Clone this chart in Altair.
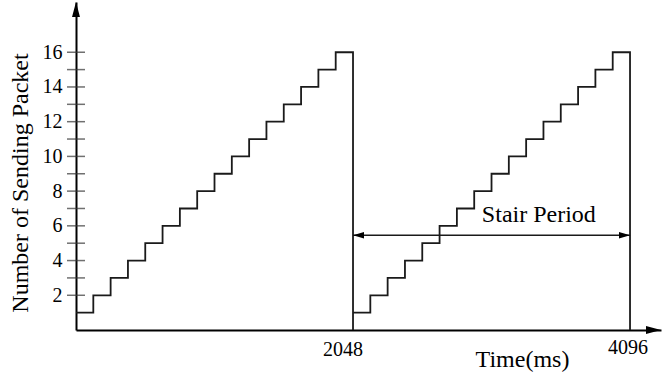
import altair as alt
import pandas as pd

# Staircase: packets sent in each 128 ms slot, repeating every 2048 ms
step_starts = [0, 128, 256, 384, 512, 640, 768, 896,
               1024, 1152, 1280, 1408, 1536, 1664, 1792, 1920]
stair_values = [1, 2, 3, 4, 5, 6, 7, 8, 9, 10, 11, 12, 13, 14, 15, 16]
period_starts = [0, 2048]
period_length = 2048

# Axis marks
y_tick_values = [2, 3, 4, 5, 6, 7, 8, 9, 10, 11, 12, 13, 14, 15, 16]
y_label_values = [2, 4, 6, 8, 10, 12, 14, 16]
x_label_values = [2048, 4096]

# "Stair Period" dimension arrow
period_arrow_level = 5.46
period_label = "Stair Period"
period_label_pos = (3422, 6.22)

X_MAX = 4325
Y_MAX = 18.894
FONT = "Liberation Serif"
INK = "#1a1a1a"

# Build the stepped path (time, value, drawing order)
rows = []
for p in period_starts:
    for t, v in zip(step_starts, stair_values):
        rows.append((p + t, v))
    rows.append((p + period_length, stair_values[-1]))
    rows.append((p + period_length, 0))
path = pd.DataFrame(rows, columns=["time", "packets"])
path["order"] = range(len(path))

x_scale = alt.Scale(domain=[0, X_MAX], nice=False, zero=False)
y_scale = alt.Scale(domain=[0, Y_MAX], nice=False, zero=False)

x_axis = alt.Axis(
    values=x_label_values,
    ticks=False,
    labels=False,
    grid=False,
    domainColor="black",
    domainWidth=2,
    title="Time(ms)",
    titleFont=FONT,
    titleFontSize=24,
    titleFontWeight="normal",
    titleColor="black",
    titleX=446,
    titleY=36.6,
    titleAlign="center",
    titleBaseline="alphabetic",
)

y_axis = alt.Axis(
    values=y_label_values,
    ticks=False,
    grid=False,
    domainColor="black",
    domainWidth=2,
    labelFont=FONT,
    labelFontSize=20,
    labelColor="black",
    labelOverlap=False,
    labelFlush=False,
    labelPadding=14,
    title="Number of Sending Packet",
    titleFont=FONT,
    titleFontSize=24,
    titleFontWeight="normal",
    titleColor="black",
    titleAngle=-90,
    titleX=-49,
    titleY=180.5,
    titleAlign="center",
    titleBaseline="alphabetic",
)

stairs = alt.Chart(path).mark_line(
    interpolate="step-after", color=INK, strokeWidth=1.8
).encode(
    x=alt.X("time:Q", scale=x_scale, axis=x_axis),
    y=alt.Y("packets:Q", scale=y_scale, axis=y_axis),
    order="order:Q",
)

# Ticks crossing the vertical axis
ticks = alt.Chart(pd.DataFrame({"v": y_tick_values})).mark_tick(
    orient="horizontal", size=18, thickness=1.5, color="#333333"
).encode(
    x=alt.datum(0, scale=x_scale),
    y=alt.Y("v:Q", scale=y_scale),
)

# Time labels under the horizontal axis
x_labels = pd.DataFrame({"x": x_label_values, "y": [0, 0]})
x_label_left = alt.Chart(x_labels.iloc[[0]]).mark_text(
    font=FONT, fontSize=20, color="black", align="center", baseline="alphabetic",
    dx=-10, dy=26,
).encode(
    x=alt.X("x:Q", scale=x_scale), y=alt.Y("y:Q", scale=y_scale),
    text=alt.Text("x:Q", format="d"),
)
x_label_right = alt.Chart(x_labels.iloc[[1]]).mark_text(
    font=FONT, fontSize=20, color="black", align="center", baseline="alphabetic",
    dx=-2, dy=24,
).encode(
    x=alt.X("x:Q", scale=x_scale), y=alt.Y("y:Q", scale=y_scale),
    text=alt.Text("x:Q", format="d"),
)

# Arrowheads at the ends of both axes
up_head = "M0,0 L-0.53,2 L0.53,2 Z"
right_head = "M0,0 L-2,-0.53 L-2,0.53 Z"
left_head = "M0,0 L2,-0.6 L2,0.6 Z"
small_right_head = "M0,0 L-2,-0.6 L-2,0.6 Z"

y_arrow = alt.Chart(pd.DataFrame({"x": [0], "y": [Y_MAX]})).mark_point(
    shape=up_head, size=225, filled=True, fill="black", strokeWidth=0, opacity=1
).encode(
    x=alt.X("x:Q", scale=x_scale), y=alt.Y("y:Q", scale=y_scale),
)
x_arrow = alt.Chart(pd.DataFrame({"x": [X_MAX], "y": [0]})).mark_point(
    shape=right_head, size=225, filled=True, fill="black", strokeWidth=0, opacity=1
).encode(
    x=alt.X("x:Q", scale=x_scale), y=alt.Y("y:Q", scale=y_scale),
)

# Dimension arrow spanning one period
span = pd.DataFrame({
    "x0": [period_starts[1]],
    "x1": [period_starts[1] + period_length],
    "y": [period_arrow_level],
})
span_rule = alt.Chart(span).mark_rule(color=INK, strokeWidth=1.6).encode(
    x=alt.X("x0:Q", scale=x_scale),
    x2="x1:Q",
    y=alt.Y("y:Q", scale=y_scale),
)
span_left = alt.Chart(span).mark_point(
    shape=left_head, size=121, filled=True, fill="black", strokeWidth=0, opacity=1
).encode(
    x=alt.X("x0:Q", scale=x_scale), y=alt.Y("y:Q", scale=y_scale),
)
span_right = alt.Chart(span).mark_point(
    shape=small_right_head, size=121, filled=True, fill="black", strokeWidth=0, opacity=1
).encode(
    x=alt.X("x1:Q", scale=x_scale), y=alt.Y("y:Q", scale=y_scale),
)
span_text = alt.Chart(pd.DataFrame({
    "x": [period_label_pos[0]], "y": [period_label_pos[1]], "t": [period_label]
})).mark_text(
    font=FONT, fontSize=24, color="black", align="center", baseline="alphabetic"
).encode(
    x=alt.X("x:Q", scale=x_scale), y=alt.Y("y:Q", scale=y_scale),
    text="t:N",
)

chart = alt.layer(
    stairs, ticks, x_label_left, x_label_right,
    span_rule, span_left, span_right, span_text, y_arrow, x_arrow
).properties(
    width=585,
    height=328,
    padding={"left": 76, "top": 2, "right": 1, "bottom": 50},
    autosize=alt.AutoSizeParams(type="none"),
    background="white",
).configure_view(stroke=None)

chart.save("out.html", embed_options={"renderer": "svg", "actions": False})
